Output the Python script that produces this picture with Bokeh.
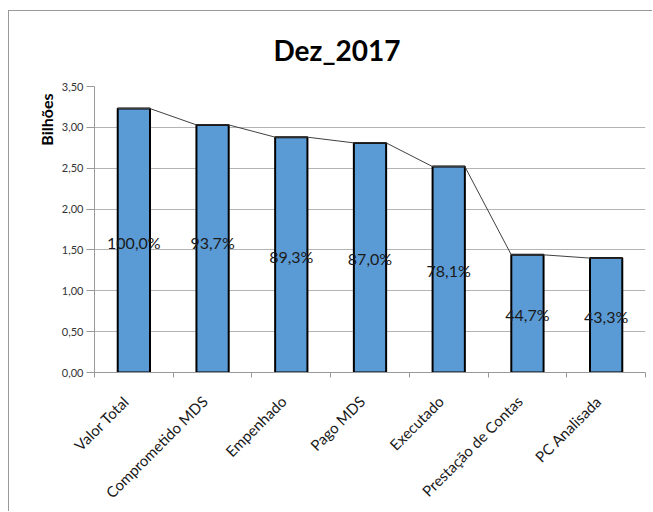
import numpy as np
from bokeh.plotting import figure
from bokeh.models import Range1d, FixedTicker, ColumnDataSource, LabelSet, Title
from bokeh.core.properties import value
from bokeh.embed import file_html
from bokeh.resources import INLINE

# ---- data ----
categories = ["Valor Total", "Comprometido MDS", "Empenhado", "Pago MDS",
              "Executado", "Prestação de Contas", "PC Analisada"]
values = [3.23, 3.03, 2.88, 2.81, 2.52, 1.44, 1.40]
pct_labels = ["100,0%", "93,7%", "89,3%", "87,0%", "78,1%", "44,7%", "43,3%"]
pct_label_level = [1.59, 1.59, 1.42, 1.40, 1.25, 0.71, 0.69]
y_ticks = [0.0, 0.5, 1.0, 1.5, 2.0, 2.5, 3.0, 3.5]
y_tick_labels = ["0,00", "0,50", "1,00", "1,50", "2,00", "2,50", "3,00", "3,50"]
title_text = "Dez_2017"
y_axis_title = "Bilhões"

FONT = "Lato"
BAR_W = 0.41
n = len(categories)
xc = np.arange(n) + 0.5

p = figure(width=644, height=501, output_backend="svg", toolbar_location=None,
           x_range=Range1d(0, n), y_range=Range1d(0, 3.5),
           min_border_left=85, min_border_right=8, min_border_top=75,
           min_border_bottom=140, margin=(10, 0, 0, 8),
           styles={"border-top": "1px solid #999999", "border-left": "1px solid #999999"})
p.outline_line_color = None
p.background_fill_color = "white"
p.border_fill_color = "white"

p.title.text = title_text
p.title.text_font = FONT
p.title.text_font_size = "28px"
p.title.text_font_style = "bold"
p.title.text_color = "black"
p.title.align = "left"
p.title.offset = 179
p.title.standoff = 39

# y-axis title near the top of the axis, as in the original
ytitle = Title(text=y_axis_title, align="right", offset=7, standoff=6,
               text_font=FONT, text_font_size="16px", text_font_style="bold",
               text_color="black")
p.add_layout(ytitle, "left")

src = ColumnDataSource(dict(x=xc, top=values, lab=pct_labels, ly=pct_label_level))
p.vbar(x="x", top="top", bottom=0, width=BAR_W, source=src,
       fill_color="#5B9BD5", line_color="black", line_width=2)

# series line connecting bar tops
lx, ly = [], []
for c, v in zip(xc, values):
    lx += [c - BAR_W / 2, c + BAR_W / 2]
    ly += [v, v]
p.line(lx, ly, line_color="#404040", line_width=1)

labels = LabelSet(x="x", y="ly", text="lab", source=src, text_align="center",
                  text_baseline="middle", text_font=value(FONT), text_font_size="16px",
                  text_color="#1a1a1a")
p.add_layout(labels)

# axes
p.xgrid.visible = False
p.ygrid.grid_line_color = "#b4b4b4"
p.ygrid.grid_line_width = 1

p.yaxis.ticker = FixedTicker(ticks=y_ticks)
p.yaxis.major_label_overrides = {t: l for t, l in zip(y_ticks, y_tick_labels)}
p.yaxis.major_label_text_font = FONT
p.yaxis.major_label_text_font_size = "11px"
p.yaxis.major_label_text_color = "#333333"
p.yaxis.axis_line_color = "#999999"
p.yaxis.major_tick_line_color = "#999999"
p.yaxis.major_tick_out = 8
p.yaxis.major_tick_in = 0
p.yaxis.minor_tick_line_color = None
p.yaxis.major_label_standoff = 3

label_pos = xc - 0.1
p.xaxis.ticker = FixedTicker(ticks=list(label_pos), minor_ticks=list(range(n + 1)))
p.xaxis.major_label_overrides = {float(c): cat for c, cat in zip(label_pos, categories)}
p.xaxis.major_label_orientation = np.pi / 4
p.xaxis.major_label_text_font = FONT
p.xaxis.major_label_text_font_size = "15px"
p.xaxis.major_label_text_color = "#1a1a1a"
p.xaxis.axis_line_color = "#999999"
p.xaxis.major_tick_line_color = None
p.xaxis.minor_tick_line_color = "#999999"
p.xaxis.minor_tick_out = 5
p.xaxis.minor_tick_in = 0
p.xaxis.major_label_standoff = 20

open("out.html", "w").write(file_html(p, INLINE))
